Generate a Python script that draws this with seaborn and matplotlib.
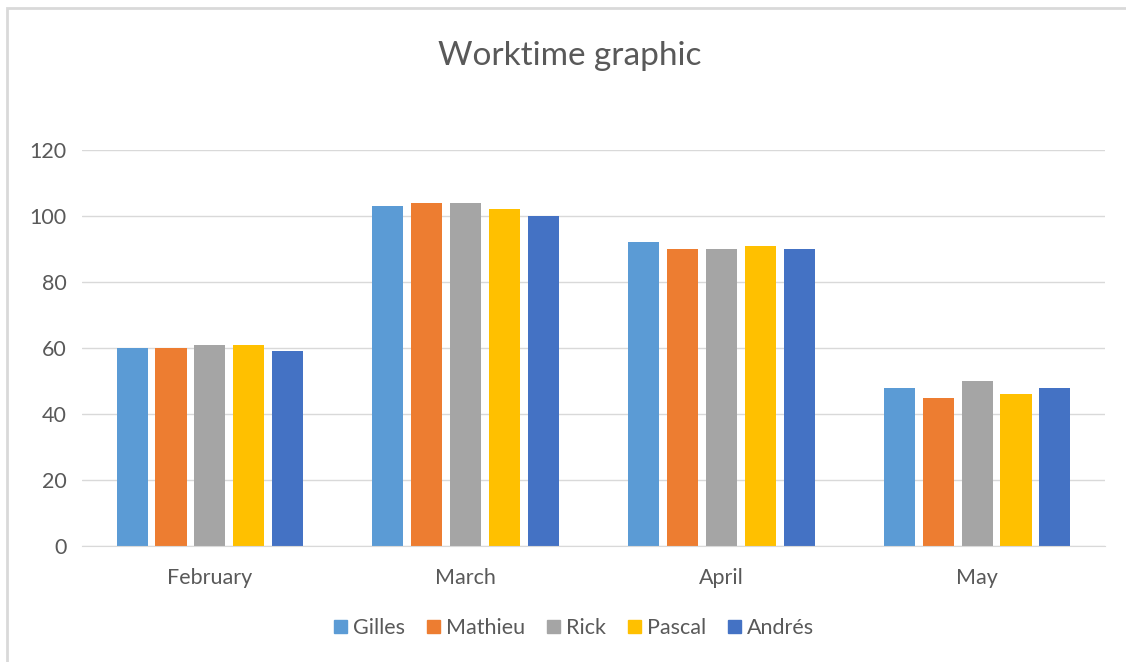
import pandas as pd
import seaborn as sns
import matplotlib.pyplot as plt
from matplotlib.patches import Rectangle

months = ['February', 'March', 'April', 'May']
people = ['Gilles', 'Mathieu', 'Rick', 'Pascal', 'Andrés']
gilles = [60, 103, 92, 48]
mathieu = [60, 104, 90, 45]
rick = [61, 104, 90, 50]
pascal = [61, 102, 91, 46]
andres = [59, 100, 90, 48]
colors = ['#5B9BD5', '#ED7D31', '#A5A5A5', '#FFC000', '#4472C4']

rows = []
for name, vals in zip(people, [gilles, mathieu, rick, pascal, andres]):
    for m, v in zip(months, vals):
        rows.append({'month': m, 'person': name, 'hours': v})
df = pd.DataFrame(rows)

sns.set_style('white')
plt.rcParams['font.family'] = ['Lato', 'DejaVu Sans']

fig = plt.figure(figsize=(11.26, 6.62), dpi=100)
ax = fig.add_axes([82 / 1126, 1 - 546 / 662, (1105 - 82) / 1126, (546 - 150) / 662])

sns.barplot(data=df, x='month', y='hours', hue='person', order=months, hue_order=people,
            palette=colors, width=0.76, gap=0.2, ax=ax, legend=False, saturation=1,
            linewidth=0)

ax.set_ylim(0, 120)
ax.set_xlim(-0.5, 3.5)
ax.set_yticks(range(0, 121, 20))
ax.yaxis.grid(True, color='#D9D9D9', linewidth=1)
ax.set_axisbelow(True)
for s in ['top', 'right', 'left']:
    ax.spines[s].set_visible(False)
ax.spines['bottom'].set_color('#D9D9D9')
ax.set_xlabel('')
ax.set_ylabel('')
ax.tick_params(axis='both', length=0, labelsize=15.5, colors='#595959')
ax.tick_params(axis='y', pad=11)
ax.tick_params(axis='x', pad=16)

fig.text(0.506, 0.915, 'Worktime graphic', ha='center', va='center', fontsize=24, color='#595959')

handles = [Rectangle((0, 0), 1, 1, color=c) for c in colors]
fig.legend(handles, people, loc='center', bbox_to_anchor=(0.51, 0.051), ncol=5, frameon=False,
           fontsize=15.5, labelcolor='#595959', handlelength=0.6, handleheight=0.6,
           handletextpad=0.3, columnspacing=1.0)

fig.patches.append(Rectangle((7 / 1126, -0.1), 1.2, 1 - 8 / 662 + 0.1, transform=fig.transFigure,
                             fill=False, edgecolor='#D9D9D9', linewidth=2))

fig.savefig('out.png', dpi=100)
